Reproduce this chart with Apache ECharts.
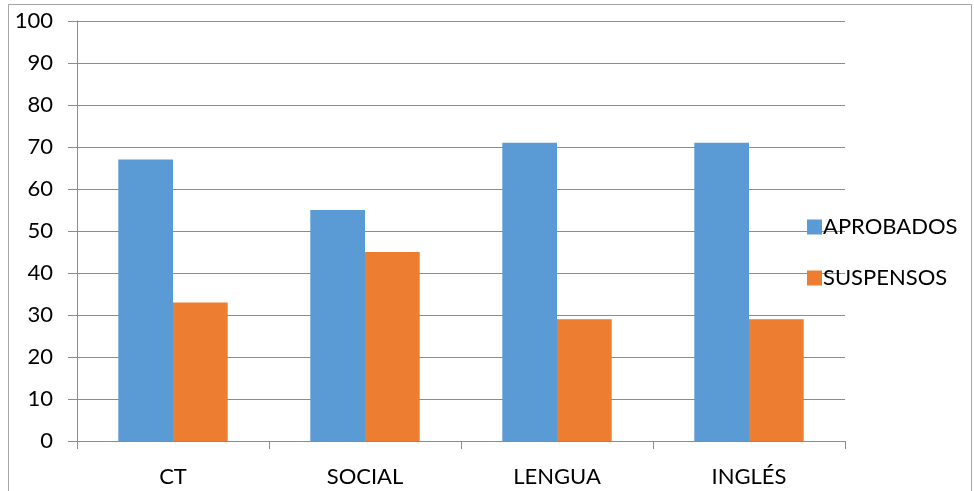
<!DOCTYPE html>
<html><head><meta charset="utf-8">
<script src="https://cdn.jsdelivr.net/npm/echarts@6/dist/echarts.min.js"></script>
<style>html,body{margin:0;padding:0;background:#fff}#c{width:974px;height:491px}</style>
</head><body><div id="c"></div>
<script>
const categories = ['CT', 'SOCIAL', 'LENGUA', 'INGLÉS'];
const aprobados = [67, 55, 71, 71];
const suspensos = [33, 45, 29, 29];
const yTicks = {min: 0, max: 100, interval: 10};

const font = 'Lato, "Open Sans", sans-serif';
const chart = echarts.init(document.getElementById('c'), null, {renderer: 'canvas'});
chart.setOption({
  animation: false,
  backgroundColor: '#fff',
  graphic: [{
    type: 'rect', shape: {x: 8.5, y: 4.5, width: 963, height: 500},
    style: {fill: 'none', stroke: '#a6a6a6', lineWidth: 1}, silent: true
  }],
  grid: {left: 77, right: 129, top: 21, bottom: 50, containLabel: false},
  legend: {
    orient: 'vertical', left: 802, top: 211,
    itemWidth: 15, itemHeight: 15, itemGap: 29,
    icon: 'rect',
    textStyle: {fontFamily: font, fontSize: 22, color: '#000', padding: [0, 0, 0, -4]},
    data: ['APROBADOS', 'SUSPENSOS']
  },
  xAxis: {
    type: 'category', data: categories,
    axisLine: {lineStyle: {color: '#8c8c8c'}},
    axisTick: {show: true, length: 8, alignWithLabel: false, lineStyle: {color: '#8c8c8c'}},
    axisLabel: {fontFamily: font, fontSize: 22, color: '#000', margin: 25}
  },
  yAxis: {
    type: 'value', min: yTicks.min, max: yTicks.max, interval: yTicks.interval,
    axisLine: {show: true, lineStyle: {color: '#8c8c8c'}},
    axisTick: {show: true, inside: false, length: 9, lineStyle: {color: '#8c8c8c'}},
    splitLine: {lineStyle: {color: '#8c8c8c'}},
    axisLabel: {fontFamily: font, fontSize: 22, color: '#000', margin: 24}
  },
  series: [
    {name: 'APROBADOS', type: 'bar', data: aprobados, barGap: '0%', barCategoryGap: '43%',
     itemStyle: {color: '#5B9BD5'}},
    {name: 'SUSPENSOS', type: 'bar', data: suspensos, barGap: '0%', barCategoryGap: '43%',
     itemStyle: {color: '#ED7D31'}}
  ]
});
</script></body></html>
